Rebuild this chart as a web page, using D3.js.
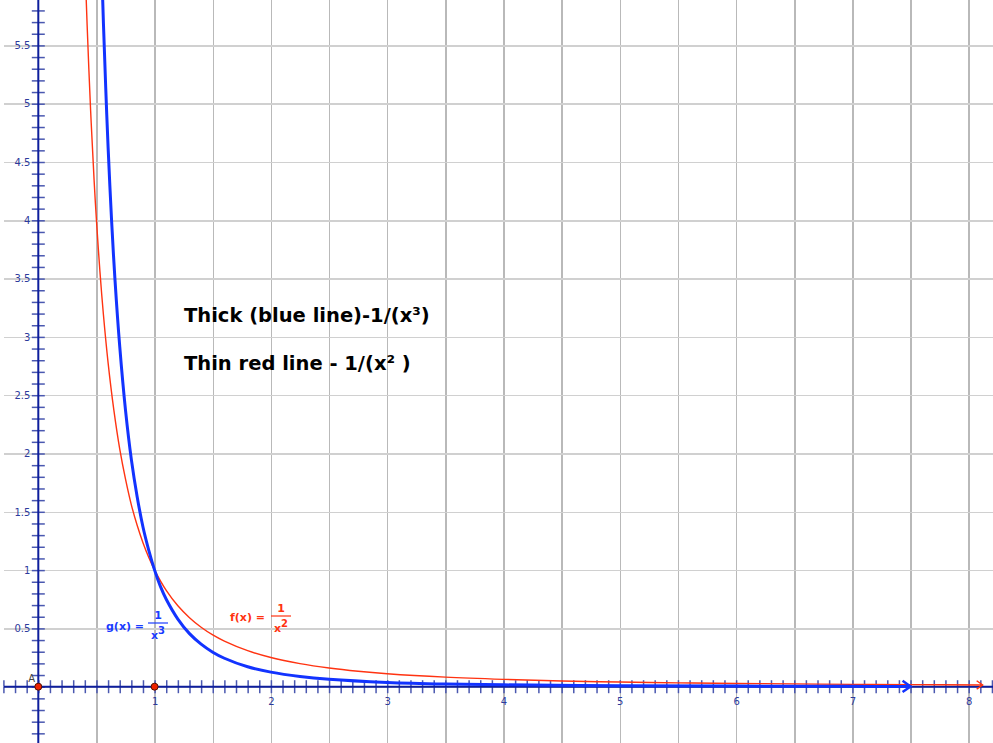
<!DOCTYPE html>
<html>
<head>
<meta charset="utf-8">
<script src="https://cdn.jsdelivr.net/npm/d3@7"></script>
<style>
  body { margin: 0; background: #fff; }
  svg { display: block; }
  .grid line { stroke-width: 1.5; shape-rendering: crispEdges; }
  .grid path { display: none; }
  .ticks line { stroke: #4a58b0; stroke-width: 1.5; }
  .ticks path { display: none; }
  .labels path { display: none; }
  .labels text { font-family: "DejaVu Sans", Verdana, sans-serif; font-size: 10px; fill: #2c3a9c; }
  .note { font-family: "DejaVu Sans", Verdana, sans-serif; font-weight: bold; font-size: 19.5px; fill: #000; }
  .flabel { font-family: "DejaVu Sans", Verdana, sans-serif; font-weight: bold; font-size: 11px; }
</style>
</head>
<body>
<div id="chart"></div>
<script>
// f(x) = 1/x^2, thin red line
var redX = [0.40, 0.42, 0.45, 0.48, 0.50, 0.53, 0.56, 0.60, 0.65, 0.70, 0.75, 0.80, 0.85, 0.90, 0.95, 1.00,
            1.10, 1.20, 1.30, 1.40, 1.50, 1.60, 1.80, 2.00, 2.25, 2.50, 2.75, 3.00, 3.50, 4.00, 4.50, 5.00,
            5.50, 6.00, 6.50, 7.00, 7.50, 8.12];
var redY = [6.25, 5.67, 4.94, 4.34, 4.00, 3.56, 3.19, 2.78, 2.37, 2.04, 1.78, 1.56, 1.384, 1.235, 1.108, 1.00,
            0.826, 0.694, 0.592, 0.510, 0.444, 0.391, 0.309, 0.250, 0.198, 0.160, 0.132, 0.111, 0.082, 0.063, 0.049, 0.040,
            0.033, 0.028, 0.024, 0.020, 0.018, 0.015];

// g(x) = 1/x^3, thick blue line
var blueX = [0.54, 0.56, 0.58, 0.60, 0.63, 0.66, 0.70, 0.75, 0.80, 0.85, 0.90, 0.95, 1.00, 1.05, 1.10,
             1.20, 1.30, 1.40, 1.50, 1.60, 1.80, 2.00, 2.25, 2.50, 3.00, 3.50, 4.00, 5.00, 6.00, 7.00, 7.50];
var blueY = [6.35, 5.69, 5.13, 4.63, 4.00, 3.48, 2.92, 2.37, 1.95, 1.63, 1.37, 1.17, 1.00, 0.86, 0.75,
             0.58, 0.455, 0.365, 0.296, 0.244, 0.171, 0.125, 0.088, 0.064, 0.037, 0.023, 0.016, 0.008, 0.005, 0.003, 0.0024];

var xTickValues = [1, 2, 3, 4, 5, 6, 7, 8];
var xTickLabels = ["1", "2", "3", "4", "5", "6", "7", "8"];
var yTickValues = [0.5, 1, 1.5, 2, 2.5, 3, 3.5, 4, 4.5, 5, 5.5];
var yTickLabels = ["0.5", "1", "1.5", "2", "2.5", "3", "3.5", "4", "4.5", "5", "5.5"];

var pointX = [0, 1];
var pointY = [0, 0];

var W = 993, H = 743;

var svg = d3.select("#chart").append("svg")
    .attr("width", W)
    .attr("height", H);

var xScale = d3.scaleLinear().domain([0, 8]).range([38.3, 38.3 + 8 * 116.3]);
var yScale = d3.scaleLinear().domain([0, 5.5]).range([686.7, 686.7 - 5.5 * 116.6]);

var x0 = xScale(0), y0 = yScale(0);

// grid every 0.5
var gridX = d3.range(1, 17).map(function(i) { return i / 2; });
var gridY = d3.range(0, 12).map(function(i) { return i / 2; });

svg.append("g")
    .attr("class", "grid")
    .attr("transform", "translate(0," + H + ")")
    .call(d3.axisBottom(xScale).tickValues(gridX).tickSize(-H).tickFormat(""))
    .selectAll("line").attr("stroke", "#b9b9b9");

svg.append("g")
    .attr("class", "grid")
    .attr("transform", "translate(" + W + ",0)")
    .call(d3.axisLeft(yScale).tickValues(gridY).tickSize(W - 4).tickFormat(""))
    .selectAll("line").attr("stroke", "#d0d0d0");

// minor ticks every 0.1, crossing the axes
var xTicks = d3.range(-3, 83).map(function(i) { return i / 10; });
var yTicks = d3.range(-4, 59).map(function(i) { return i / 10; });

[d3.axisBottom, d3.axisTop].forEach(function(ax) {
  svg.append("g")
      .attr("class", "ticks")
      .attr("transform", "translate(0," + y0 + ")")
      .call(ax(xScale).tickValues(xTicks).tickSize(6.5).tickFormat(""));
});
[d3.axisLeft, d3.axisRight].forEach(function(ax) {
  svg.append("g")
      .attr("class", "ticks")
      .attr("transform", "translate(" + x0 + ",0)")
      .call(ax(yScale).tickValues(yTicks).tickSize(6.5).tickFormat(""));
});

// axis lines
svg.append("line")
    .attr("x1", 4).attr("x2", W)
    .attr("y1", y0).attr("y2", y0)
    .attr("stroke", "#0e1e9c").attr("stroke-width", 2);
svg.append("line")
    .attr("x1", x0).attr("x2", x0)
    .attr("y1", 0).attr("y2", H)
    .attr("stroke", "#0e1e9c").attr("stroke-width", 2);

// tick labels
svg.append("g")
    .attr("class", "labels")
    .attr("transform", "translate(0," + y0 + ")")
    .call(d3.axisBottom(xScale).tickValues(xTickValues).tickSize(0).tickPadding(11)
      .tickFormat(function(d, i) { return xTickLabels[i]; }));

svg.append("g")
    .attr("class", "labels")
    .attr("transform", "translate(" + x0 + ",0)")
    .call(d3.axisLeft(yScale).tickValues(yTickValues).tickSize(0).tickPadding(8)
      .tickFormat(function(d, i) { return yTickLabels[i]; }));

// curves
svg.append("clipPath").attr("id", "clip")
  .append("rect").attr("x", 0).attr("y", 0).attr("width", W).attr("height", H);

var line = d3.line()
    .x(function(d) { return xScale(d[0]); })
    .y(function(d) { return yScale(d[1]); })
    .curve(d3.curveCatmullRom.alpha(0.5));

var redData = redX.map(function(v, i) { return [v, redY[i]]; });
var blueData = blueX.map(function(v, i) { return [v, blueY[i]]; });

svg.append("path")
    .datum(redData)
    .attr("clip-path", "url(#clip)")
    .attr("d", line)
    .attr("fill", "none")
    .attr("stroke", "#ff3311")
    .attr("stroke-width", 1.4);

svg.append("path")
    .datum(blueData)
    .attr("clip-path", "url(#clip)")
    .attr("d", line)
    .attr("fill", "none")
    .attr("stroke", "#1233ff")
    .attr("stroke-width", 3);

// arrow heads at the curve ends
function arrowHead(data, size, colour, width) {
  var p = data[data.length - 1];
  var px = xScale(p[0]), py = yScale(p[1]);
  svg.append("path")
      .attr("d", "M" + (px - size) + "," + (py - size * 0.7) + "L" + px + "," + py + "L" + (px - size) + "," + (py + size * 0.7))
      .attr("fill", "none")
      .attr("stroke", colour)
      .attr("stroke-width", width)
      .attr("stroke-linejoin", "miter");
}
arrowHead(redData, 6, "#ff3311", 1.4);
arrowHead(blueData, 8, "#1233ff", 2.5);

// points
svg.selectAll(".pt")
    .data(pointX)
    .enter()
    .append("circle")
    .attr("class", "pt")
    .attr("cx", function(d) { return xScale(d); })
    .attr("cy", function(d, i) { return yScale(pointY[i]); })
    .attr("r", 3.5)
    .attr("fill", "#ee2200")
    .attr("stroke", "#551100")
    .attr("stroke-width", 1);

svg.append("text")
    .attr("x", x0 - 10).attr("y", y0 - 5)
    .attr("font-family", "DejaVu Sans, sans-serif")
    .attr("font-size", 10)
    .attr("fill", "#444")
    .text("A");

// notes
svg.append("text").attr("class", "note").attr("x", 184).attr("y", 322)
    .text("Thick (blue line)-1/(x³)");
svg.append("text").attr("class", "note").attr("x", 184).attr("y", 370)
    .text("Thin red line - 1/(x² )");

// function labels
function fracLabel(name, exp, colour, lx, ly, barX, barW, barY) {
  svg.append("text").attr("class", "flabel").attr("x", lx).attr("y", ly)
      .attr("fill", colour).text(name + " =");
  svg.append("line")
      .attr("x1", barX).attr("x2", barX + barW)
      .attr("y1", barY).attr("y2", barY)
      .attr("stroke", colour).attr("stroke-width", 1.2);
  svg.append("text").attr("class", "flabel")
      .attr("x", barX + barW / 2).attr("y", barY - 4)
      .attr("text-anchor", "middle").attr("font-size", 12).attr("fill", colour).text("1");
  var t = svg.append("text").attr("class", "flabel")
      .attr("x", barX + barW / 2).attr("y", barY + 16)
      .attr("text-anchor", "middle").attr("fill", colour);
  t.append("tspan").text("x");
  t.append("tspan").attr("dy", -5).attr("font-size", 10).text(exp);
}
fracLabel("g(x)", "3", "#1a3cff", 106, 630, 148, 20, 623);
fracLabel("f(x)", "2", "#ff3311", 230, 621, 271, 20, 616);
</script>
</body>
</html>
